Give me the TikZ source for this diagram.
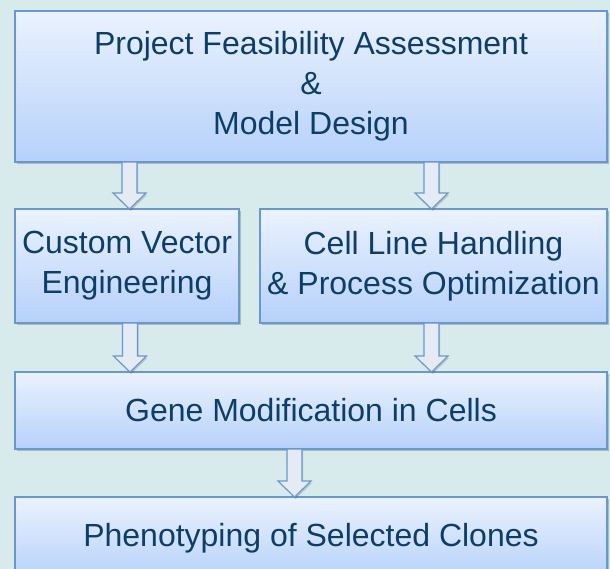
\documentclass[tikz,border=0pt]{standalone}
\usepackage{fontspec}
\setmainfont{Liberation Sans}
\usepackage{xcolor}
\usepackage{tikz}
\usetikzlibrary{calc, shadows}

\definecolor{bgteal}{RGB}{216,235,236}
\definecolor{boxtop}{RGB}{234,242,254}
\definecolor{boxbot}{RGB}{182,209,250}
\definecolor{boxline}{RGB}{104,152,206}
\definecolor{arrowfill}{RGB}{228,235,244}
\definecolor{txtblue}{RGB}{14,62,104}

\tikzset{
  stage/.style={rectangle, draw=boxline, line width=1.3pt,
    top color=boxtop, bottom color=boxbot, outer sep=0pt, inner sep=0pt,
    align=center, text=txtblue, font=\fontsize{32}{40}\selectfont,
    drop shadow={shadow xshift=2pt, shadow yshift=-2pt, opacity=0.3, fill=black!70}},
  blockarrow/.style={draw=boxline, line width=1.1pt, fill=arrowfill, line join=miter,
    drop shadow={shadow xshift=1pt, shadow yshift=-2pt, opacity=0.25, fill=black!70}}
}

% hollow down arrow at x=#1 from node #2 to node #3
\newcommand{\stagearrow}[3]{
  \coordinate (ax) at (#1,0);
  \path[blockarrow] ($(ax |- #2.south)+(-7.5,0)$) -- ($(ax |- #3.north)+(-7.5,-16)$)
    -- ++(-9,0) -- (ax |- #3.north) -- ++(16.5,-16) -- ++(-9,0)
    -- ($(ax |- #2.south)+(7.5,0)$) -- cycle;
}

\begin{document}
\begin{tikzpicture}[x=1pt, y=-1pt]

  % Background
  \clip (0,0) rectangle (610,569);
  \fill[bgteal] (0,0) rectangle (610,569);

  % --- 1. Stages ---
  \node[stage, minimum width=592pt, minimum height=151pt] (design) at (311,86.5)
    {Project Feasibility Assessment\\ \&\\ Model Design};

  \node[stage, minimum width=224pt, minimum height=114pt] (vector) at (127,266)
    {Custom Vector\\ Engineering};
  \node[stage, minimum width=347pt, minimum height=114pt] (cellline) at (433.5,266)
    {Cell Line Handling\\ \& Process Optimization};

  \node[stage, minimum width=592pt, minimum height=77pt] (genemod) at (311,410.5)
    {Gene Modification in Cells};

  \node[stage, minimum width=592pt, minimum height=83pt] (pheno) at (311,538.5)
    {Phenotyping of Selected Clones};

  % --- 2. Arrows ---
  \stagearrow{129.5}{design}{vector}
  \stagearrow{431.5}{design}{cellline}
  \stagearrow{130}{vector}{genemod}
  \stagearrow{431.5}{cellline}{genemod}
  \stagearrow{294.5}{genemod}{pheno}

\end{tikzpicture}
\end{document}
